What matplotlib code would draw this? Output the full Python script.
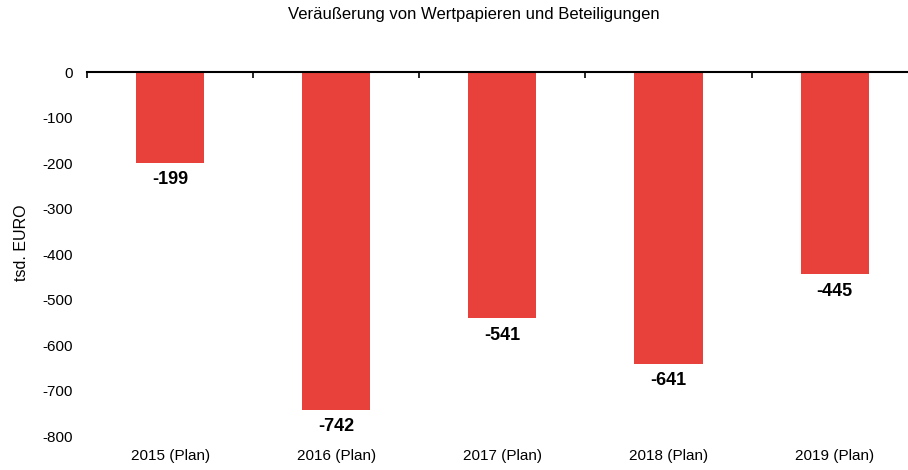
import matplotlib.pyplot as plt

plt.rcParams['font.family'] = ['Liberation Sans', 'DejaVu Sans']

jahre = ["2015 (Plan)", "2016 (Plan)", "2017 (Plan)", "2018 (Plan)", "2019 (Plan)"]
werte = [-199, -742, -541, -641, -445]
yticks = [0, -100, -200, -300, -400, -500, -600, -700, -800]

fig = plt.figure(figsize=(9.08, 4.70), dpi=100)
ax = fig.add_axes([0.0958, 0.0723, 0.915, 0.7745])

x = list(range(len(jahre)))
ax.bar(x, werte, width=0.41, color="#E8403A", zorder=2)

# Werte unter die Balken schreiben
for xi, v in zip(x, werte):
    ax.annotate(str(v), (xi, v), xytext=(0, -6), textcoords="offset points",
                ha="center", va="top", fontsize=13, fontweight="bold")

ax.set_xlim(-0.5, len(jahre) - 0.5)
ax.set_ylim(-800, 0)
ax.set_yticks(yticks)
ax.set_yticklabels([str(t) for t in yticks], fontsize=11)
ax.set_xticks(x)
ax.set_xticklabels(jahre, fontsize=11)
ax.tick_params(axis="x", length=0, pad=9)
ax.tick_params(axis="y", length=0, pad=10)

for s in ["left", "right", "bottom"]:
    ax.spines[s].set_visible(False)
ax.spines["top"].set_linewidth(1.5)

# Trennstriche an der Nulllinie
top = ax.secondary_xaxis("top")
top.set_xticks([i - 0.5 for i in range(len(jahre) + 1)])
top.set_xticklabels([])
top.tick_params(direction="in", length=4, width=1.2)
top.spines["top"].set_visible(False)

fig.text(22 / 908, 1 - 243 / 470, "tsd. EURO", rotation=90,
         ha="center", va="center", fontsize=11.5)
fig.text(474 / 908, 1 - 15 / 470, "Veräußerung von Wertpapieren und Beteiligungen",
         ha="center", va="center", fontsize=12)

fig.savefig("out.png", dpi=100)
